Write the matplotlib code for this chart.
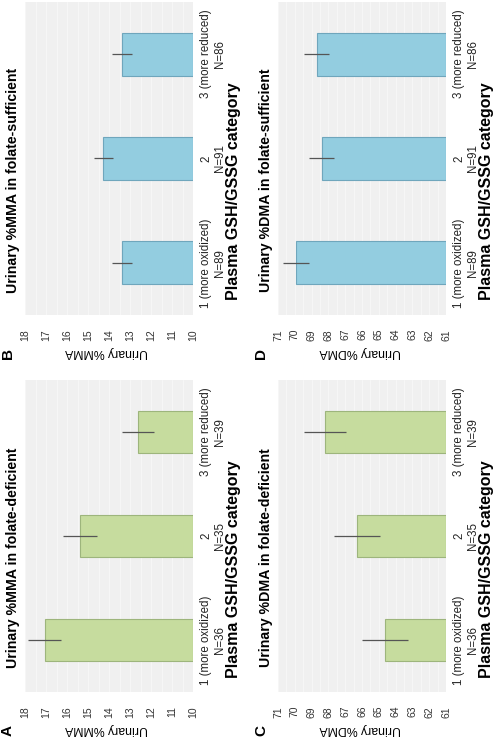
import numpy as np
import matplotlib
matplotlib.use("Agg")
import matplotlib.pyplot as plt

# data
categories = ["1 (more oxidized)", "2", "3 (more reduced)"]
n_deficient = [36, 35, 39]
n_sufficient = [89, 91, 86]

mma_deficient = [17.07, 15.37, 12.62]
mma_deficient_err = [0.79, 0.81, 0.76]
mma_sufficient = [13.37, 14.27, 13.38]
mma_sufficient_err = [0.47, 0.46, 0.48]

dma_deficient = [64.63, 66.30, 68.20]
dma_deficient_err = [1.39, 1.36, 1.27]
dma_sufficient = [69.93, 68.40, 68.70]
dma_sufficient_err = [0.77, 0.73, 0.76]

W, H = 498, 739
plt.rcParams['font.family'] = ['Liberation Sans', 'DejaVu Sans']
fig = plt.figure(figsize=(W / 100, H / 100), dpi=100)

blue = '#93CDE0'
blue_edge = '#6FA6BC'
green = '#C6DC9E'
green_edge = '#9DB57C'


def fx(px):
    return px / W


def fy(py):
    return 1 - py / H


def panel(box, vals, errs, ns, lo, hi, color, edge, title, ylab, letter):
    left, right, top, bottom = box
    ax = fig.add_axes([fx(left), fy(bottom), fx(right - left), (bottom - top) / H])
    ax.set_facecolor('#F0F0F0')
    pos = np.arange(len(vals))
    vals = np.array(vals)
    ax.barh(pos, vals - lo, left=lo, height=0.41, color=color,
            edgecolor=edge, linewidth=0.8, zorder=3)
    ax.errorbar(vals, pos, xerr=errs, fmt='none', ecolor='#555555',
                elinewidth=0.9, capsize=0, zorder=4)
    ax.set_xlim(hi, lo)
    ax.set_ylim(-0.5, 2.5)
    ax.set_xticks(np.arange(lo, hi + 1))
    ax.set_xticks(np.arange(lo, hi, 0.5), minor=True)
    ax.set_xticklabels([str(v) for v in range(lo, hi + 1)], rotation=90,
                       ha='center', va='top', fontsize=7.5, color='#333333')
    ax.grid(True, axis='x', which='both', color='#FAFAFA', linewidth=0.5, zorder=0)
    ax.set_axisbelow(True)
    ax.tick_params(axis='x', which='both', length=0, pad=10)
    ax.set_yticks(pos)
    ax.set_yticklabels([f"{c}\nN={n}" for c, n in zip(categories, ns)])
    ax.yaxis.tick_right()
    ax.tick_params(axis='y', length=0, pad=5)
    plt.setp(ax.get_yticklabels(), rotation=90, va='center', ha='left',
             ma='center', fontsize=8.3, color='#222222')
    for s in ax.spines.values():
        s.set_visible(False)

    cy = (top + bottom) / 2
    fig.text(fx(left - 12), fy(cy + 22), title, rotation=90, ha='center',
             va='center', fontsize=10.2, fontweight='bold')
    fig.text(fx(right + 40), fy(cy + 33), "Plasma GSH/GSSG category",
             rotation=90, ha='center', va='center', fontsize=11.5,
             fontweight='bold')
    fig.text(fx((left + right) / 2 - 2), fy(bottom + 37), ylab, rotation=180,
             ha='center', va='center', fontsize=8.8)
    fig.text(fx(left - 17), fy(bottom + 38), letter, rotation=90, ha='center',
             va='center', fontsize=11, fontweight='bold')
    return ax


panel((25, 193, 2, 315), mma_sufficient, mma_sufficient_err, n_sufficient,
      10, 18, blue, blue_edge, "Urinary %MMA in folate-sufficient",
      "Urinary %MMA", "B")
panel((278, 446, 2, 315), dma_sufficient, dma_sufficient_err, n_sufficient,
      61, 71, blue, blue_edge, "Urinary %DMA in folate-sufficient",
      "Urinary %DMA", "D")
panel((25, 193, 380, 692), mma_deficient, mma_deficient_err, n_deficient,
      10, 18, green, green_edge, "Urinary %MMA in folate-deficient",
      "Urinary %MMA", "A")
panel((278, 446, 380, 692), dma_deficient, dma_deficient_err, n_deficient,
      61, 71, green, green_edge, "Urinary %DMA in folate-deficient",
      "Urinary %DMA", "C")

fig.savefig("out.png", dpi=100, facecolor='white')
